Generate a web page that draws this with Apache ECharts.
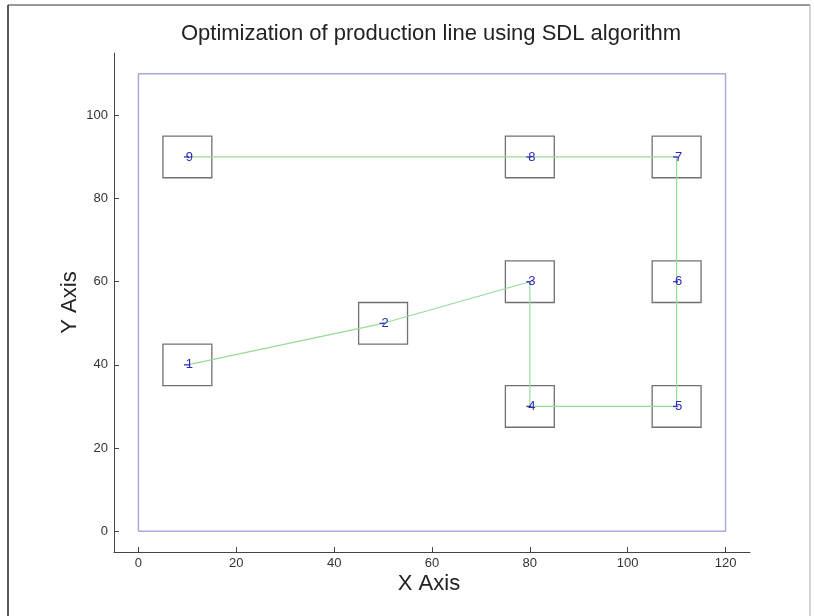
<!DOCTYPE html>
<html><head><meta charset="utf-8">
<script src="https://cdn.jsdelivr.net/npm/echarts@6/dist/echarts.min.js"></script>
<style>html,body{margin:0;padding:0;background:#fff}#c{width:814px;height:616px}</style>
</head><body><div id="c"></div>
<script>
const stationLabels = ['1','2','3','4','5','6','7','8','9'];
const stationX = [10, 50, 80, 80, 110, 110, 110, 80, 10];
const stationY = [40, 50, 60, 30, 30, 60, 90, 90, 90];
const boxHalf = 5;
const areaX = [0, 120, 120, 0, 0];
const areaY = [0, 0, 110, 110, 0];
const xTicks = [0, 20, 40, 60, 80, 100, 120];
const yTicks = [0, 20, 40, 60, 80, 100];

const pathData = stationX.map((x, i) => [x, stationY[i]]);
const areaData = areaX.map((x, i) => [x, areaY[i]]);
const boxData = stationX.map((x, i) => [x, stationY[i]]);

const chart = echarts.init(document.getElementById('c'));
chart.setOption({
  animation: false,
  backgroundColor: '#fff',
  title: {
    text: 'Optimization of production line using SDL algorithm',
    left: 426, top: 18, textAlign: 'center',
    textStyle: {fontFamily: 'Liberation Sans', fontSize: 22, fontWeight: 'normal', color: '#222'}
  },
  graphic: [
    {type: 'line', shape: {x1: 8, y1: 5, x2: 810, y2: 5}, style: {stroke: '#777', lineWidth: 1.5}},
    {type: 'line', shape: {x1: 8, y1: 5, x2: 8, y2: 616}, style: {stroke: '#222', lineWidth: 1.5}},
    {type: 'line', shape: {x1: 810, y1: 5, x2: 810, y2: 616}, style: {stroke: '#aaa', lineWidth: 1}}
  ],
  grid: {left: 114, right: 64, top: 53, bottom: 64},
  xAxis: {
    type: 'value', min: -5, max: 125,
    name: 'X Axis', nameLocation: 'middle', nameGap: 21, nameMoveOverlap: false,
    nameTextStyle: {fontFamily: 'Liberation Sans', fontSize: 22, color: '#222', padding: [0, 6, 0, 0]},
    axisLine: {show: true, onZero: false, lineStyle: {color: '#444', width: 1}},
    axisTick: {show: true, inside: true, length: 5, customValues: xTicks, lineStyle: {color: '#444'}},
    axisLabel: {customValues: xTicks, fontFamily: 'Liberation Sans', fontSize: 13, color: '#333', margin: 5},
    splitLine: {show: false}
  },
  yAxis: {
    type: 'value', min: -5, max: 115,
    name: 'Y Axis', nameLocation: 'middle', nameGap: 33, nameRotate: 90, nameMoveOverlap: false,
    nameTextStyle: {fontFamily: 'Liberation Sans', fontSize: 22, color: '#222'},
    axisLine: {show: true, onZero: false, lineStyle: {color: '#444', width: 1}},
    axisTick: {show: true, inside: true, length: 5, customValues: yTicks, lineStyle: {color: '#444'}},
    axisLabel: {customValues: yTicks, fontFamily: 'Liberation Sans', fontSize: 13, color: '#333', margin: 6},
    splitLine: {show: false}
  },
  series: [
    {
      type: 'line', data: areaData, symbol: 'none', silent: true,
      lineStyle: {color: '#a9a9dc', width: 1.5}, z: 1
    },
    {
      type: 'custom', data: boxData, silent: true, z: 2,
      renderItem: function (params, api) {
        const cx = api.value(0), cy = api.value(1);
        const p1 = api.coord([cx - boxHalf, cy + boxHalf]);
        const p2 = api.coord([cx + boxHalf, cy - boxHalf]);
        return {
          type: 'rect',
          shape: {x: p1[0], y: p1[1], width: p2[0] - p1[0], height: p2[1] - p1[1]},
          style: {fill: 'none', stroke: '#707070', lineWidth: 1.3}
        };
      }
    },
    {
      type: 'line', data: pathData, z: 3,
      lineStyle: {color: '#96dc96', width: 1.2},
      symbol: 'rect', symbolSize: [5, 1.3], symbolOffset: [-1, 0],
      itemStyle: {color: '#3030c0'},
      label: {
        show: true, position: 'inside', offset: [3, 0],
        formatter: p => stationLabels[p.dataIndex],
        fontFamily: 'Liberation Sans', fontSize: 13, color: '#2a2ab8'
      }
    }
  ]
});
</script></body></html>
